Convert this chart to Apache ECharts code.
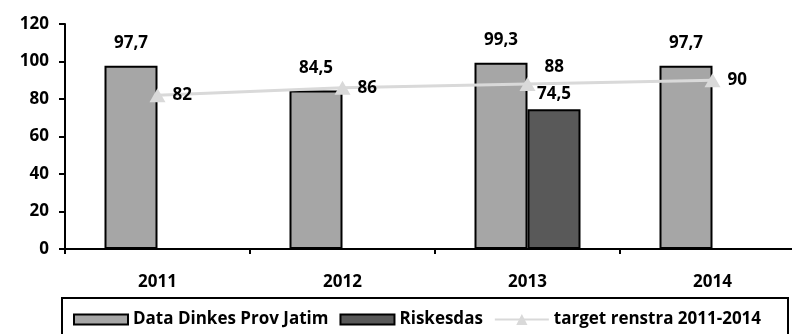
<!DOCTYPE html>
<html>
<head>
    <meta charset="utf-8">
    <title>Data Dinkes vs Riskesdas</title>
    <script src="https://cdn.jsdelivr.net/npm/echarts@6/dist/echarts.min.js"></script>
    <style>
        html, body { margin: 0; padding: 0; background: #fff; }
    </style>
</head>
<body>
    <div id="main" style="width: 792px;height:334px;"></div>

    <script type="text/javascript">
        // data
        var years = ['2011', '2012', '2013', '2014'];
        var dinkesValues = [97.7, 84.5, 99.3, 97.7];
        var riskesdasValues = [null, null, 74.5, null];
        var targetValues = [82, 86, 88, 90];
        var yTicks = [0, 20, 40, 60, 80, 100, 120];

        var FONT = 'Open Sans';
        var FS = 17;
        var comma = function (p) { return String(p.value).replace('.', ','); };
        var labelBase = { fontFamily: FONT, fontWeight: 'bold', fontSize: FS, color: '#000' };
        var barIcon = 'path://M0,0H54V10H0Z';

        var myChart = echarts.init(document.getElementById('main'));

        var option = {
            backgroundColor: '#fff',
            animation: false,
            // the plot runs past the right edge of the picture, as in the source
            grid: { left: 65, top: 24, width: 740, height: 225, outerBoundsMode: 'none' },
            legend: {
                left: 68,
                top: 306,
                itemWidth: 54,
                itemHeight: 14,
                itemGap: 11,
                textStyle: { fontFamily: FONT, fontWeight: 'bold', fontSize: FS, color: '#000' },
                data: [
                    { name: 'Data Dinkes Prov Jatim', icon: barIcon },
                    { name: 'Riskesdas', icon: barIcon },
                    { name: 'target renstra 2011-2014' }
                ]
            },
            graphic: [{
                type: 'rect',
                shape: { x: 62, y: 298, width: 726, height: 60 },
                style: { fill: 'none', stroke: '#000', lineWidth: 2 }
            }],
            xAxis: {
                type: 'category',
                data: years,
                axisLine: { lineStyle: { color: '#000', width: 2 } },
                axisTick: { show: true, length: 5, lineStyle: { color: '#000', width: 2 } },
                axisLabel: { margin: 25, fontFamily: FONT, fontWeight: 'bold', fontSize: FS, color: '#000' }
            },
            yAxis: {
                type: 'value',
                min: yTicks[0],
                max: yTicks[yTicks.length - 1],
                interval: 20,
                splitLine: { show: false },
                axisLine: { show: true, lineStyle: { color: '#000', width: 2 } },
                axisTick: { show: true, length: 6, lineStyle: { color: '#000', width: 2 } },
                axisLabel: { margin: 16, fontFamily: FONT, fontWeight: 'bold', fontSize: FS, color: '#000' }
            },
            series: [
                {
                    name: 'Data Dinkes Prov Jatim',
                    type: 'bar',
                    data: dinkesValues,
                    barWidth: 53,
                    barGap: '0%',
                    itemStyle: { color: '#a6a6a6', borderColor: '#000', borderWidth: 2 },
                    label: Object.assign({ show: true, position: 'top', distance: 14, formatter: comma }, labelBase)
                },
                {
                    name: 'Riskesdas',
                    type: 'bar',
                    data: riskesdasValues,
                    barWidth: 53,
                    itemStyle: { color: '#595959', borderColor: '#000', borderWidth: 2 },
                    label: Object.assign({ show: true, position: 'top', distance: 7, formatter: comma }, labelBase)
                },
                {
                    name: 'target renstra 2011-2014',
                    type: 'line',
                    data: targetValues.map(function (v, i) {
                        // 2013 label sits above the marker to clear the Riskesdas label
                        return i === 2 ? { value: v, label: { offset: [2, -17] } } : v;
                    }),
                    symbol: 'triangle',
                    symbolSize: [16, 14],
                    z: 5,
                    lineStyle: { color: '#d9d9d9', width: 3 },
                    itemStyle: { color: '#d9d9d9' },
                    label: Object.assign({ show: true, position: 'right', distance: 7, formatter: comma }, labelBase)
                }
            ]
        };

        myChart.setOption(option);
    </script>
</body>
</html>
